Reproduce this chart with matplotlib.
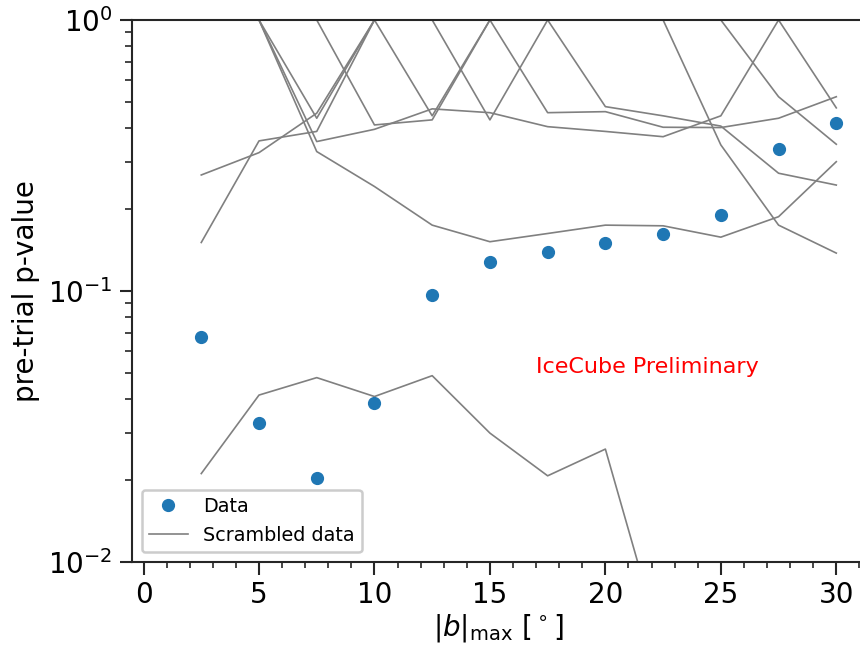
import matplotlib
matplotlib.use("Agg")
import matplotlib.pyplot as plt
from matplotlib.ticker import MultipleLocator

b_max = [2.5, 5, 7.5, 10, 12.5, 15, 17.5, 20, 22.5, 25, 27.5, 30]
data_p = [0.0676, 0.0326, 0.0204, 0.0387, 0.0966, 0.128, 0.139, 0.150, 0.162, 0.190, 0.334, 0.417]

scrambled_1 = [0.0212, 0.0413, 0.0479, 0.0408, 0.0487, 0.0299, 0.0208, 0.0261, 0.0047, 0.0030, 0.0040, 0.0030]
scrambled_2 = [1.0, 1.0, 0.327, 0.243, 0.175, 0.152, 0.163, 0.175, 0.174, 0.158, 0.188, 0.300]
scrambled_3 = [1.0, 1.0, 0.356, 0.395, 0.470, 0.455, 0.404, 0.388, 0.371, 0.443, 1.0, 0.474]
scrambled_4 = [0.268, 0.324, 0.453, 1.0, 0.443, 1.0, 1.0, 0.479, 0.443, 0.406, 0.272, 0.246]
scrambled_5 = [0.151, 0.358, 0.388, 1.0, 1.0, 0.428, 1.0, 1.0, 1.0, 0.346, 0.175, 0.138]
scrambled_6 = [1.0, 1.0, 0.434, 1.0, 1.0, 1.0, 0.455, 0.459, 0.402, 0.401, 0.434, 0.521]
scrambled_7 = [1.0, 1.0, 1.0, 0.410, 0.428, 1.0, 1.0, 1.0, 1.0, 1.0, 0.521, 0.348]
scrambled_8 = [1.0, 1.0, 1.0, 1.0, 1.0, 1.0, 1.0, 1.0, 1.0, 1.0, 1.0, 1.0]
scrambled = [scrambled_1, scrambled_2, scrambled_3, scrambled_4,
             scrambled_5, scrambled_6, scrambled_7, scrambled_8]

fig = plt.figure(figsize=(8.6, 6.5), dpi=100)
ax = fig.add_axes([132/860, 88/650, (864-132)/860, (562-20)/650])

for i, s in enumerate(scrambled):
    ax.plot(b_max, s, color='gray', lw=1.2,
            label='Scrambled data' if i == 0 else None, zorder=2)
ax.plot(b_max, data_p, 'o', color='#1f77b4', ms=8.5, label='Data', zorder=3)

ax.set_yscale('log')
ax.set_ylim(0.01, 1)
ax.set_xlim(-0.5, 31.2)
ax.xaxis.set_major_locator(MultipleLocator(5))
ax.xaxis.set_minor_locator(MultipleLocator(1))

ax.text(17, 0.05, 'IceCube Preliminary', color='red', fontsize=16,
        ha='left', va='baseline')

ax.set_xlabel(r'$|b|_{\mathrm{max}}$ [$^\circ$]', fontsize=20, labelpad=2)
ax.set_ylabel('pre-trial p-value', fontsize=20, labelpad=6)

for sp in ax.spines.values():
    sp.set_linewidth(1.5)
    sp.set_color('0.15')
ax.tick_params(which='major', length=9, width=1.5, labelsize=20, pad=5, color='0.15')
ax.tick_params(axis='y', which='minor', length=5, width=1.2, color='0.15')
ax.tick_params(axis='x', which='minor', length=4, width=1.2, color='0.15')

handles, labels = ax.get_legend_handles_labels()
order = [labels.index('Data'), labels.index('Scrambled data')]
leg = ax.legend([handles[i] for i in order], [labels[i] for i in order],
                loc='lower left', fontsize=13.8, framealpha=1)
leg.get_frame().set_edgecolor('#cccccc')
leg.get_frame().set_linewidth(1.8)

fig.savefig('out.png', dpi=100)
